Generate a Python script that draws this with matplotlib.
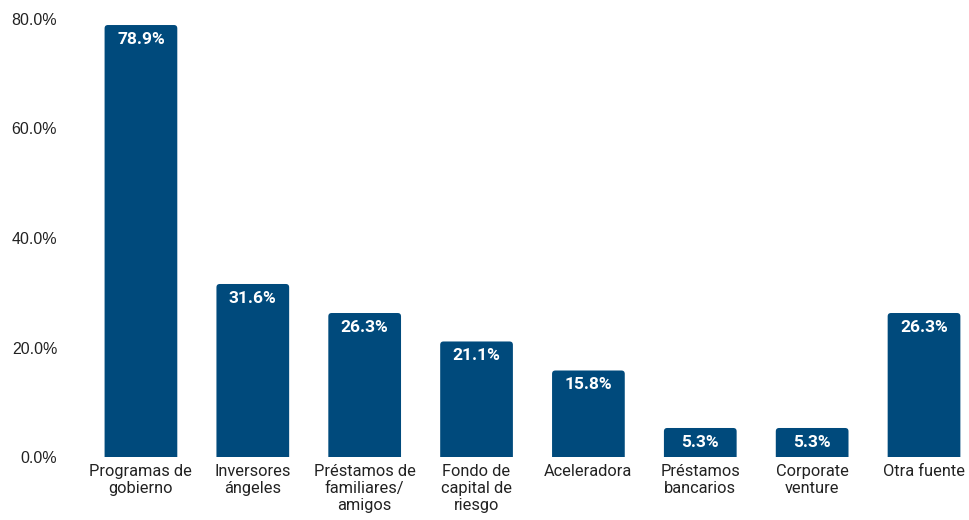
import matplotlib.pyplot as plt
from matplotlib.patches import FancyBboxPatch

categorias = ["Programas de\ngobierno", "Inversores\nángeles", "Préstamos de\nfamiliares/\namigos",
              "Fondo de\ncapital de\nriesgo", "Aceleradora", "Préstamos\nbancarios",
              "Corporate\nventure", "Otra fuente"]
valores = [78.9, 31.6, 26.3, 21.1, 15.8, 5.3, 5.3, 26.3]
ticks_y = [0, 20, 40, 60, 80]

plt.rcParams['font.family'] = ['Roboto', 'DejaVu Sans']

fig = plt.figure(figsize=(9.69, 5.2), dpi=100)
ax = fig.add_axes([85 / 969, 63 / 520, 884 / 969, 438 / 520])

color = '#004a7c'
barras = ax.bar(range(len(valores)), valores, width=0.65, color=color, alpha=0)

# barras con esquinas superiores redondeadas (las inferiores quedan recortadas en 0)
px_x = 1 / 111.86
px_y = 80 / 438
for b in barras:
    x, w, h = b.get_x(), b.get_width(), b.get_height()
    p = FancyBboxPatch((x, -3), w, h + 3, boxstyle="round,pad=0,rounding_size=0.03",
                       mutation_aspect=px_y / px_x, facecolor=color, edgecolor='none')
    ax.add_patch(p)

for i, v in enumerate(valores):
    ax.annotate(f"{v:.1f}%", (i, v), xytext=(0, -5), textcoords='offset points',
                ha='center', va='top', color='white', fontweight='bold', fontsize=12.5)

ax.set_xlim(-0.5, (969 - 141) / 111.86)
ax.set_ylim(0, 80)
ax.set_yticks(ticks_y)
ax.set_yticklabels([f"{t:.1f}%" for t in ticks_y], fontsize=11.5, color='#222222',
                   family=['Liberation Sans', 'DejaVu Sans'])
ax.set_xticks(range(len(categorias)))
ax.set_xticklabels(categorias, fontsize=11.8, color='#222222', linespacing=1.15)
ax.tick_params(axis='y', length=0, pad=20)
ax.tick_params(axis='x', length=0, pad=5)
for s in ax.spines.values():
    s.set_visible(False)

plt.savefig("out.png", dpi=100)
plt.close(fig)
